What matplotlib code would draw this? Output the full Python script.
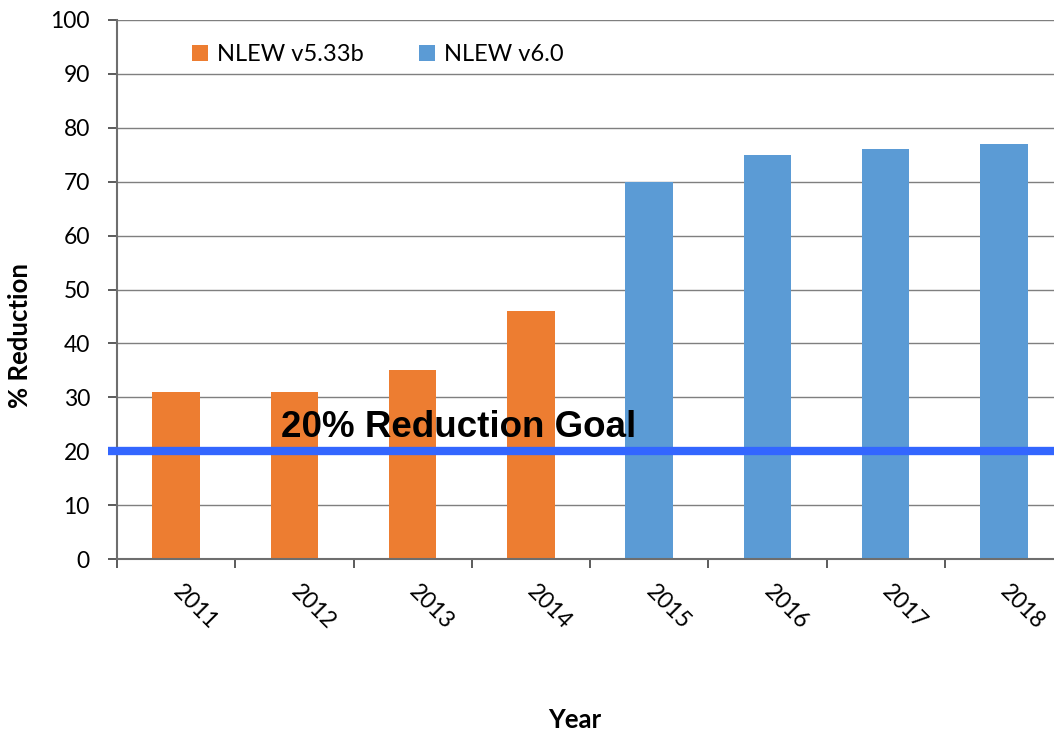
import matplotlib
matplotlib.use("Agg")
import matplotlib.pyplot as plt
from matplotlib.patches import Patch

years = ["2011", "2012", "2013", "2014", "2015", "2016", "2017", "2018"]
values = [31, 31, 35, 46, 70, 75, 76, 77]
versions = ["NLEW v5.33b"] * 4 + ["NLEW v6.0"] * 4
series_names = ["NLEW v5.33b", "NLEW v6.0"]
series_colors = {"NLEW v5.33b": "#ED7D31", "NLEW v6.0": "#5B9BD5"}
goal = 20
goal_label = "20% Reduction Goal"
yticks = list(range(0, 101, 10))

fig = plt.figure(figsize=(10.54, 7.31), dpi=100)
ax = fig.add_axes([117/1054, 1 - 559/731, (1063 - 117)/1054, (559 - 20)/731])

x = list(range(len(years)))
ax.bar(x, values, width=0.4, color=[series_colors[v] for v in versions], zorder=2)

ax.set_xlim(-0.5, len(years) - 0.5)
ax.set_ylim(0, 100)
ax.set_yticks(yticks)
ax.set_yticklabels([str(t) for t in yticks], fontsize=16.5, family="Lato")
ax.yaxis.grid(True, color="#7F7F7F", linewidth=1, zorder=0)
ax.set_axisbelow(True)

ax.set_xticks([i - 0.5 for i in range(len(years) + 1)], minor=False)
ax.set_xticklabels([""] * (len(years) + 1))
ax.set_xticks(x, minor=True)
ax.set_xticklabels(years, minor=True, rotation=-45, ha="left", va="center",
                   rotation_mode="anchor", fontsize=16.5, family="Lato")
ax.tick_params(axis="x", which="minor", length=0, pad=21)
ax.tick_params(axis="x", which="major", length=6.5, direction="out", color="#404040", width=1.2)
ax.tick_params(axis="y", length=6.5, direction="out", color="#404040", width=1.2, pad=13)

for s in ["top", "right"]:
    ax.spines[s].set_visible(False)
for s in ["left", "bottom"]:
    ax.spines[s].set_color("#6E6E6E")
    ax.spines[s].set_linewidth(1.5)

# goal line
ax.plot([-0.575, len(years) - 0.5], [goal, goal], color="#3366FF", linewidth=6,
        zorder=3, clip_on=False, solid_capstyle="butt")
ax.text(2.39, goal + 1.2, goal_label, fontsize=26.5, fontweight="bold",
        family="Liberation Sans", ha="center", va="bottom", zorder=4)

fig.text(20/1054, 1 - 336/731, "% Reduction", fontsize=18.5, fontweight="bold", family="Lato",
         rotation=90, ha="center", va="center")
fig.text(575/1054, 1 - 720/731, "Year", fontsize=18.5, fontweight="bold", family="Lato",
         ha="center", va="center")

handles = [Patch(facecolor=series_colors[n], label=n) for n in series_names]
leg = ax.legend(handles=handles, loc="upper left", bbox_to_anchor=(0.057, 0.995), ncol=2,
                frameon=False, prop={"family": "Lato", "size": 17},
                handlelength=0.65, handleheight=0.65, handletextpad=0.4, columnspacing=2.35)

fig.savefig("out.png", dpi=100)
